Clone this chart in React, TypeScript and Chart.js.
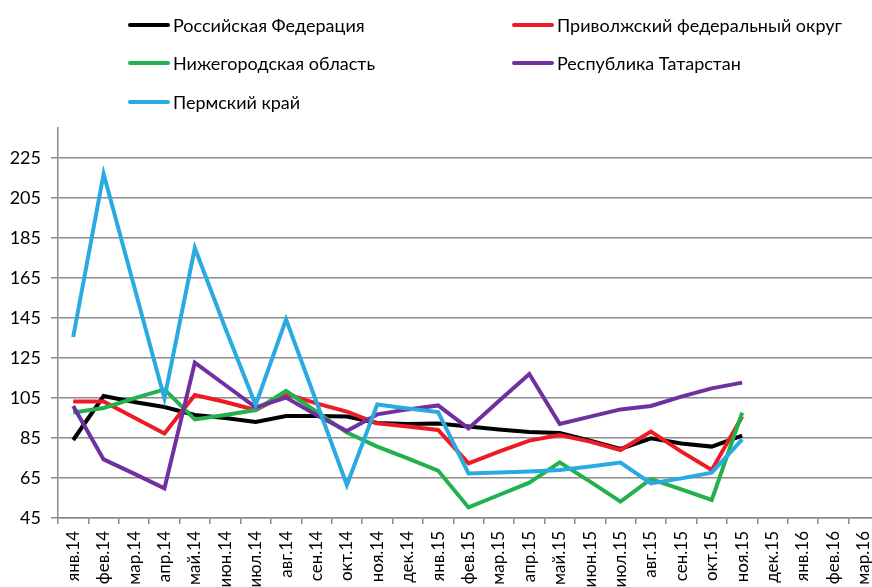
import React, { useEffect, useRef } from "react";
import { Chart, registerables } from "chart.js";

Chart.register(...registerables);

const months = [
  "янв.14", "фев.14", "мар.14", "апр.14", "май.14", "июн.14", "июл.14", "авг.14", "сен.14",
  "окт.14", "ноя.14", "дек.14", "янв.15", "фев.15", "мар.15", "апр.15", "май.15", "июн.15",
  "июл.15", "авг.15", "сен.15", "окт.15", "ноя.15", "дек.15", "янв.16", "фев.16", "мар.16",
];

const russia = [84, 106, 103, 100.5, 96.5, 95, 93, 96, 96, 95.7, 92.5, 92, 92.3, 90.7, 89.3, 88, 87.5, 83.7, 79.5, 84.8, 82.3, 80.7, 86.2];
const volga = [103.2, 103.2, 95.3, 87.3, 106.5, 103, 99, 107, 102.3, 98.2, 92.3, 90.7, 89, 72.3, 78.2, 83.7, 86.5, 83.2, 79, 88.2, 78.2, 69, 95.7];
const nizhny = [97.7, 100, 104.8, 109.3, 94.3, 96.5, 99, 108.5, 98.2, 87.7, 80.7, 74.8, 68.7, 50.3, 56.5, 62.7, 72.8, 63.2, 53.2, 64.5, 59.3, 54, 97.7];
const tatarstan = [101, 74.3, 67.2, 59.8, 122.7, 111.5, 100.3, 105.2, 96.5, 88.5, 96.8, 99.3, 101.3, 89.8, 103.5, 117, 92, 95.7, 99.3, 101, 105.7, 109.8, 112.7];
const perm = [135.5, 217, 161, 104.8, 180, 140, 101.5, 144.3, 103, 61.5, 101.8, 99.8, 98, 67.3, 67.7, 68.2, 69, 70.7, 72.7, 62.3, 64.8, 67.7, 84.3];

const seriesNames = [
  "Российская Федерация",
  "Приволжский федеральный округ",
  "Нижегородская область",
  "Республика Татарстан",
  "Пермский край",
];
const seriesColors = ["#000000", "#ED1C24", "#22B14C", "#7030A0", "#29ABE2"];
const seriesData = [russia, volga, nizhny, tatarstan, perm];

const yTicks = [45, 65, 85, 105, 125, 145, 165, 185, 205, 225];

const FONT = "Lato, 'Open Sans', sans-serif";
const GRID = "#8c8c8c";

export default function App() {
  const ref = useRef<HTMLCanvasElement | null>(null);

  useEffect(() => {
    if (!ref.current) return;
    const chart = new Chart(ref.current, {
      type: "line",
      data: {
        labels: months,
        datasets: seriesData.map((d, i) => ({
          label: seriesNames[i],
          data: d,
          borderColor: seriesColors[i],
          backgroundColor: seriesColors[i],
          borderWidth: 4,
          pointRadius: 0,
          tension: 0,
          fill: false,
          order: seriesData.length - 1 - i,
        })),
      },
      options: {
        animation: false,
        responsive: true,
        maintainAspectRatio: false,
        layout: { padding: { top: 128, right: 3, left: 0, bottom: 0 } },
        plugins: { legend: { display: false }, tooltip: { enabled: false } },
        scales: {
          x: {
            offset: true,
            grid: { display: true, drawOnChartArea: false, offset: true, tickLength: 6, color: GRID, lineWidth: 1.5 },
            border: { display: true, color: GRID, width: 1.5 },
            ticks: {
              autoSkip: false,
              minRotation: 90,
              maxRotation: 90,
              padding: 7,
              color: "#000",
              font: { family: FONT, size: 17 },
            },
            afterFit: (s: any) => {
              s.height = 69;
              s.paddingLeft = 0;
              s.paddingRight = 0;
            },
          },
          y: {
            min: 45,
            max: 240,
            ticks: {
              stepSize: 20,
              padding: 10,
              color: "#000",
              font: { family: FONT, size: 18 },
            },
            afterBuildTicks: (s: any) => {
              s.ticks = yTicks.map((v) => ({ value: v }));
            },
            grid: { color: GRID, lineWidth: 1.5, tickLength: 7 },
            border: { display: true, color: GRID, width: 1.5 },
            afterFit: (s: any) => {
              s.width = 58;
            },
          },
        },
      },
    });
    return () => chart.destroy();
  }, []);

  const legendPos = [
    { x: 128, y: 25 },
    { x: 512, y: 25 },
    { x: 128, y: 63 },
    { x: 512, y: 63 },
    { x: 128, y: 102 },
  ];

  return (
    <div style={{ position: "fixed", left: 0, top: 0, width: 872, height: 587, overflow: "hidden", background: "#fff" }}>
      <div style={{ position: "absolute", left: 0, top: 0, width: 882, height: 587 }}>
        <canvas ref={ref} />
      </div>
      {seriesNames.map((n, i) => (
        <div
          key={n}
          style={{
            position: "absolute",
            left: legendPos[i].x,
            top: legendPos[i].y - 12,
            height: 24,
            display: "flex",
            alignItems: "center",
            whiteSpace: "nowrap",
          }}
        >
          <div style={{ width: 42, height: 4, background: seriesColors[i], borderRadius: 2, marginRight: 3 }} />
          <span
            style={{
              fontFamily: FONT,
              fontSize: 18,
              color: "#000",
              display: "inline-block",
            }}
          >
            {n}
          </span>
        </div>
      ))}
    </div>
  );
}
